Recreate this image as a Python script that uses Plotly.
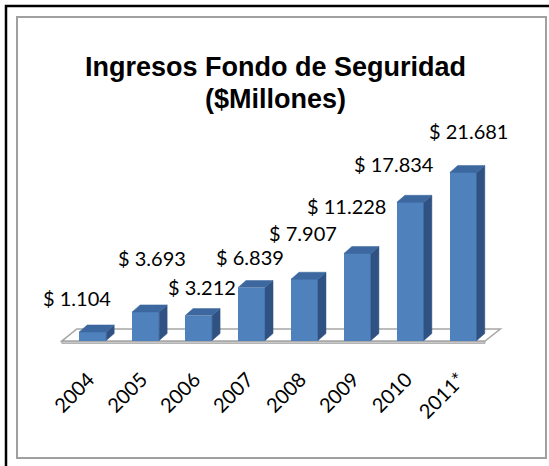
import plotly.graph_objects as go

# ---- data ----
categories = ["2004", "2005", "2006", "2007", "2008", "2009", "2010", "2011*"]
values = [1104, 3693, 3212, 6839, 7907, 11228, 17834, 21681]
value_labels = ["$ 1.104", "$ 3.693", "$ 3.212", "$ 6.839", "$ 7.907", "$ 11.228", "$ 17.834", "$ 21.681"]

# ---- label placement offsets (px) ----
label_dx = [-15.5, 6, 3, -2, -1, -10.5, -16, 5]
label_dy = [34, 54, 28.6, 30.5, 46, 47.5, 38, 41.5]

# ---- layout geometry ----
W, H = 549, 466
L, R, T, B = 53, 46, 108, 110
PW, PH = W - L - R, H - T - B
XR = [-0.75, 7.75]
YR = [-2000, 30000]
px_per_x = PW / (XR[1] - XR[0])
px_per_y = PH / (YR[1] - YR[0])

FRONT = "#4F81BD"
SIDE = "#2F5283"
TOP = "#3D689F"
BAR_W = 0.51
DX = 8 / px_per_x
DY = 7 / px_per_y

def px2paper_x(px):
    return (px - L) / PW

def px2paper_y(py):
    return (H - B - py) / PH

fig = go.Figure()

idx = list(range(len(categories)))

# 3D side and top faces
for i, v in zip(idx, values):
    x0, x1 = i - BAR_W / 2, i + BAR_W / 2
    fig.add_trace(go.Scatter(
        x=[x1, x1 + DX, x1 + DX, x1, x1], y=[0, DY, v + DY, v, 0],
        fill="toself", fillcolor=SIDE, line=dict(color=SIDE, width=0.5),
        mode="lines", hoverinfo="skip", showlegend=False))
    fig.add_trace(go.Scatter(
        x=[x0, x1, x1 + DX, x0 + DX, x0], y=[v, v, v + DY, v + DY, v],
        fill="toself", fillcolor=TOP, line=dict(color=TOP, width=0.5),
        mode="lines", hoverinfo="skip", showlegend=False))

# front faces
fig.add_trace(go.Bar(
    x=idx, y=values, width=BAR_W, marker=dict(color=FRONT, line=dict(width=0)),
    showlegend=False, hoverinfo="x+y"))

# value labels
for i, v, t, dx, dy in zip(idx, values, value_labels, label_dx, label_dy):
    fig.add_annotation(x=i, y=v, text=t, showarrow=False, xshift=dx, yshift=dy,
                       xanchor="center", yanchor="middle",
                       font=dict(family="Lato", size=20, color="black"))

# title (two lines, stacked without overlap)
fig.add_annotation(xref="paper", yref="paper", x=px2paper_x(275.5), y=px2paper_y(83),
                   text="<b>Ingresos Fondo de Seguridad</b>", showarrow=False,
                   xanchor="center", yanchor="bottom", borderpad=0,
                   font=dict(family="Liberation Sans", size=27, color="black"))
fig.add_annotation(xref="paper", yref="paper", x=px2paper_x(275.5), y=px2paper_y(83),
                   text="<b>($Millones)</b>", showarrow=False,
                   xanchor="center", yanchor="top", borderpad=0,
                   font=dict(family="Liberation Sans", size=27, color="black"))

# borders
fig.add_shape(type="rect", xref="paper", yref="paper",
              x0=px2paper_x(6), y0=px2paper_y(480), x1=px2paper_x(570), y1=px2paper_y(6),
              line=dict(color="black", width=2.5), layer="below")
fig.add_shape(type="rect", xref="paper", yref="paper",
              x0=px2paper_x(17), y0=px2paper_y(458), x1=px2paper_x(546), y1=px2paper_y(17),
              line=dict(color="#A0A0A0", width=2), layer="below")

# floor (below the bars)
fx0f, fx1f = -0.585, 7.41
fx0b, fx1b = -0.30, 7.70
yF, yB = -80, 1480
yS = yF - 2.2 / px_per_y
fig.add_shape(type="path", xref="x", yref="y", layer="below",
              path=f"M{fx0f},{yF} L{fx1f},{yF} L{fx1f},{yS} L{fx0f},{yS} Z",
              fillcolor="#D0D0D0", line=dict(color="#A6A6A6", width=1))
fig.add_shape(type="path", xref="x", yref="y", layer="below",
              path=f"M{fx0f},{yF} L{fx1f},{yF} L{fx1b},{yB} L{fx0b},{yB} Z",
              fillcolor="white", line=dict(color="#A6A6A6", width=1.5))

fig.update_layout(
    width=W, height=H,
    margin=dict(l=L, r=R, t=T, b=B, pad=0),
    paper_bgcolor="white", plot_bgcolor="rgba(0,0,0,0)",
    bargap=0,
    xaxis=dict(range=XR, tickmode="array", tickvals=idx, ticktext=categories,
               tickangle=-45, showgrid=False, zeroline=False, showline=False,
               ticks="", ticklabelstandoff=7, ticklabelshift=-4,
               tickfont=dict(family="Lato", size=20, color="black"), fixedrange=True),
    yaxis=dict(range=YR, showgrid=False, zeroline=False, showline=False,
               showticklabels=False, ticks="", fixedrange=True),
)

fig.write_html("out.html", config={"displayModeBar": False},
               post_script="document.body.style.margin='0';")
